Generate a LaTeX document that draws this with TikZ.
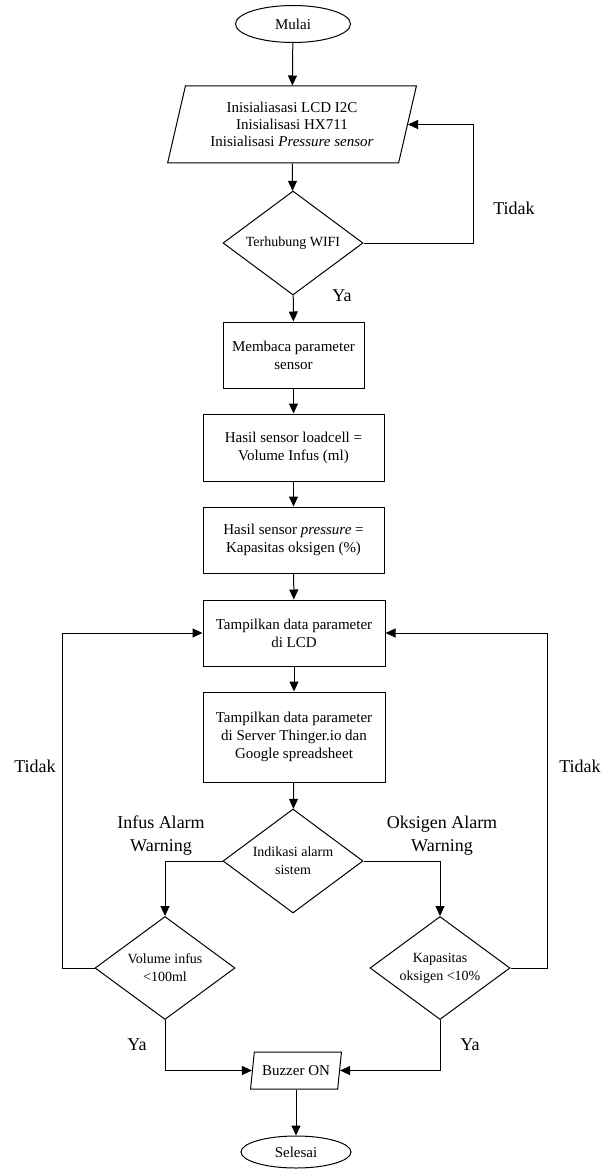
\documentclass[tikz,border=0pt]{standalone}
\usepackage{fontspec}
\setmainfont{Liberation Serif}
\usepackage{tikz}
\usetikzlibrary{arrows.meta,positioning,shapes.geometric,calc}

\begin{document}
\begin{tikzpicture}[
    x=1pt, y=-1pt,
    proc/.style={rectangle, draw, line width=1pt, align=center, inner sep=0pt,
                 font=\fontsize{15}{18}\selectfont},
    dec/.style={diamond, draw, aspect=1.35, line width=1pt, align=center,
                inner sep=0pt, minimum width=140pt, minimum height=104pt,
                font=\fontsize{14}{18}\selectfont},
    io/.style={trapezium, trapezium left angle=73, trapezium right angle=107,
               trapezium stretches=true, draw, line width=1pt, align=center,
               inner sep=0pt, font=\fontsize{15}{17}\selectfont},
    term/.style={ellipse, draw, line width=1pt, minimum width=115pt,
                 minimum height=37pt, inner sep=0pt, font=\fontsize{15}{18}\selectfont},
    lbl/.style={font=\fontsize{18}{23}\selectfont, align=center},
    arr/.style={-{Triangle[length=10pt,width=9pt]}, line width=1pt}
  ]
  \useasboundingbox (0,0) rectangle (603,1169);

  \node[term] (mulai) at (293,24) {Mulai};
  \node[io, minimum width=249pt, minimum height=77pt] (init) at (292,124.5)
       {Inisialiasasi LCD I2C\\Inisialisasi HX711\\Inisialisasi \textit{Pressure sensor}};
  \node[dec] (wifi) at (293,243) {Terhubung WIFI};
  \node[proc, minimum width=141pt, minimum height=66pt] (baca) at (293.5,355)
       {Membaca parameter\\sensor};
  \node[proc, minimum width=181pt, minimum height=67pt] (cell) at (293.5,447.5)
       {Hasil sensor loadcell =\\Volume Infus (ml)};
  \node[proc, minimum width=181pt, minimum height=66pt] (press) at (293.5,540)
       {Hasil sensor \textit{pressure} =\\Kapasitas oksigen (\%)};
  \node[proc, minimum width=182pt, minimum height=66pt] (lcd) at (294,633)
       {Tampilkan data parameter\\di LCD};
  \node[proc, minimum width=182pt, minimum height=90pt] (server) at (294,737)
       {Tampilkan data parameter\\di Server Thinger.io dan\\Google spreadsheet};
  \node[dec] (alarm) at (293,861) {Indikasi alarm\\sistem};
  \node[dec, minimum height=103pt] (infus) at (165,968) {Volume infus\\<100ml};
  \node[dec, minimum height=103pt] (oksi) at (440,968) {Kapasitas\\oksigen <10\%};
  \node[io, minimum width=91pt, minimum height=37pt] (buzz) at (296,1070.5) {Buzzer ON};
  \node[term, minimum width=110pt, minimum height=32pt] (selesai) at (296,1152) {Selesai};

  % labels
  \node[lbl] (tidakWifi) at (514,208) {Tidak};
  \node[lbl] (yaWifi) at (342,296) {Ya};
  \node[lbl] (warnInfus) at (161,836) {Infus Alarm\\Warning};
  \node[lbl] (warnOksi) at (442,836) {Oksigen Alarm\\Warning};
  \node[lbl] (tidakInfus) at (35,766) {Tidak};
  \node[lbl] (tidakOksi) at (580,766) {Tidak};
  \node[lbl] (yaInfus) at (137,1045) {Ya};
  \node[lbl] (yaOksi) at (470,1045) {Ya};

  \draw[arr] (mulai) -- (init);
  \draw[arr] (init) -- (wifi);
  \draw[arr] (wifi.east) -- ++(110,0) |- (init.east);
  \draw[arr] (wifi) -- (baca);
  \draw[arr] (baca) -- (cell);
  \draw[arr] (cell) -- (press);
  \draw[arr] (press) -- (lcd);
  \draw[arr] (lcd) -- (server);
  \draw[arr] (server) -- (alarm);
  \draw[arr] (alarm.west) -| (infus.north);
  \draw[arr] (alarm.east) -| (oksi.north);
  \draw[arr] (infus.west) -- ++(-32,0) |- (lcd.west);
  \draw[arr] (oksi.east) -- ++(37,0) |- (lcd.east);
  \draw[arr] (infus.south) |- (buzz.west);
  \draw[arr] (oksi.south) |- (buzz.east);
  \draw[arr] (buzz) -- (selesai);
\end{tikzpicture}
\end{document}
